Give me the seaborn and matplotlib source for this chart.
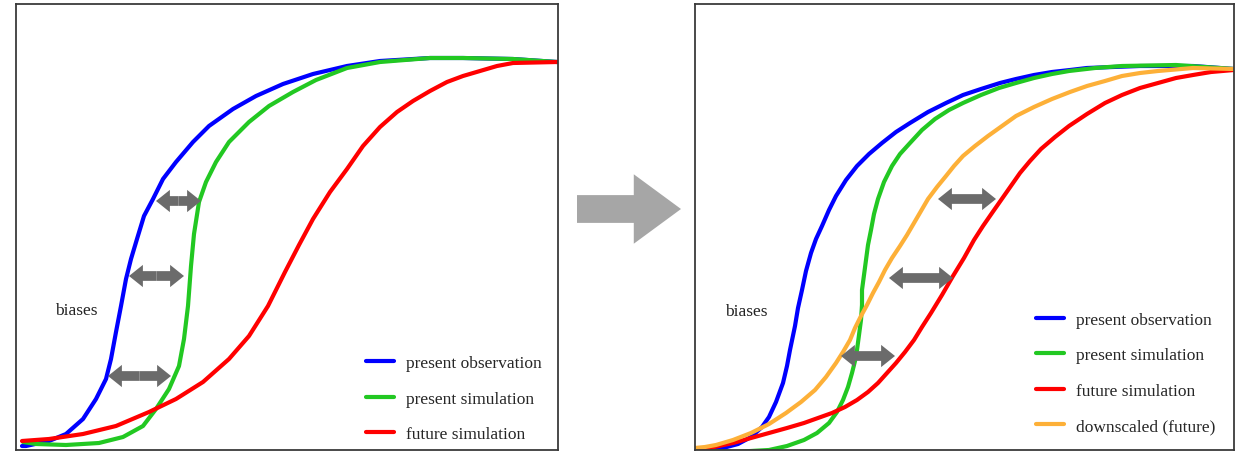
import matplotlib
matplotlib.use("Agg")
import matplotlib.pyplot as plt
from matplotlib.patches import FancyArrowPatch
import seaborn as sns

# Curves, in image pixel units (y grows downward)
# ---- left panel: before downscaling ----
L_obs_x = [22, 26, 49, 66, 83, 96, 106, 111, 116, 121, 126, 131, 137, 144, 153, 163, 176, 193, 209, 233, 256, 283, 313, 347, 380, 430, 463, 513, 557]
L_obs_y = [447, 447, 442, 435, 420, 400, 380, 360, 333, 307, 280, 260, 240, 217, 200, 180, 163, 143, 127, 110, 97, 85, 75, 67, 62, 59, 59, 60, 63]

L_sim_x = [23, 36, 66, 99, 123, 143, 156, 169, 179, 184, 188, 191, 194, 199, 206, 216, 229, 249, 269, 293, 316, 347, 380, 430, 463, 513, 557]
L_sim_y = [443, 445, 446, 444, 438, 427, 410, 390, 367, 340, 307, 267, 235, 203, 183, 163, 143, 123, 107, 93, 81, 69, 63, 59, 59, 60, 63]

L_fut_x = [22, 49, 83, 116, 149, 176, 203, 229, 249, 268, 285, 299, 313, 330, 347, 363, 380, 397, 413, 430, 447, 463, 480, 497, 513, 557]
L_fut_y = [442, 440, 435, 427, 413, 400, 383, 360, 337, 307, 273, 246, 220, 193, 170, 147, 128, 113, 102, 92, 83, 77, 72, 67, 64, 63]

# bias arrows: y, x_start, x_end
L_bias_y = [202, 277, 377]
L_bias_x0 = [156, 129, 108]
L_bias_x1 = [201, 184, 171]

# ---- right panel: after downscaling ----
R_obs_x = [695, 710, 723, 738, 751, 762, 769, 776, 783, 787, 790, 795, 798, 802, 806, 811, 816, 822, 829, 836, 846, 857, 869, 882, 896, 910, 928, 946, 963, 981, 1000, 1016, 1034, 1052, 1070, 1087, 1113, 1140, 1193, 1234]
R_obs_y = [451, 451, 449, 445, 438, 428, 418, 403, 384, 367, 351, 327, 309, 291, 272, 254, 240, 227, 211, 197, 181, 167, 155, 144, 133, 124, 113, 104, 96, 90, 84, 80, 76, 73, 71, 69, 68, 67, 67, 70]

R_sim_x = [695, 715, 733, 751, 769, 787, 804, 817, 829, 837, 843, 848, 852, 855, 857, 859, 861, 862, 862, 864, 866, 868, 871, 874, 878, 884, 892, 900, 910, 922, 935, 949, 963, 981, 999, 1016, 1034, 1052, 1069, 1095, 1122, 1176, 1234]
R_sim_y = [451, 452, 453, 452, 451, 447, 441, 434, 424, 413, 401, 388, 374, 362, 351, 336, 321, 306, 291, 276, 261, 246, 231, 215, 200, 183, 167, 155, 144, 131, 120, 111, 104, 96, 89, 84, 79, 75, 72, 69, 67, 66, 70]

R_fut_x = [695, 714, 733, 751, 769, 787, 804, 818, 832, 845, 857, 868, 878, 887, 896, 905, 914, 922, 931, 942, 953, 964, 974, 983, 992, 999, 1006, 1013, 1020, 1030, 1041, 1055, 1069, 1087, 1105, 1122, 1140, 1158, 1176, 1193, 1211, 1234]
R_fut_y = [451, 448, 444, 439, 434, 429, 424, 419, 414, 408, 401, 393, 384, 374, 364, 353, 341, 328, 314, 296, 277, 259, 241, 227, 214, 204, 194, 184, 174, 162, 150, 138, 127, 115, 104, 96, 89, 84, 79, 76, 73, 71]

R_down_x = [695, 705, 716, 733, 751, 769, 786, 801, 815, 826, 836, 843, 850, 855, 861, 867, 873, 879, 885, 892, 900, 907, 914, 921, 928, 937, 946, 954, 963, 975, 988, 1002, 1016, 1034, 1052, 1070, 1087, 1105, 1122, 1140, 1158, 1193, 1234]
R_down_y = [449, 448, 446, 441, 434, 425, 414, 403, 391, 378, 364, 353, 341, 329, 317, 306, 294, 283, 271, 259, 247, 236, 224, 212, 200, 188, 177, 167, 157, 147, 137, 127, 117, 108, 100, 93, 87, 82, 77, 74, 72, 69, 70]

R_bias_y = [200, 279, 357]
R_bias_x0 = [938, 889, 841]
R_bias_x1 = [996, 953, 895]

labels = ["present observation", "present simulation", "future simulation", "downscaled (future)"]
colors = ["#0000ff", "#22c822", "#ff0000", "#fdb038"]

sns.set_theme(style="white")
plt.rcParams["font.family"] = ["Liberation Serif", "DejaVu Serif"]

fig = plt.figure(figsize=(12.36, 4.52), dpi=100)
ax1 = fig.add_axes([16 / 1236, 1 / 452, 542 / 1236, 446 / 452])
ax2 = fig.add_axes([695 / 1236, 1 / 452, 539 / 1236, 446 / 452])


def bias_arrows(ax, ys, x0s, x1s):
    for y, a, b in zip(ys, x0s, x1s):
        mid = (a + b) / 2
        for end in (a, b):
            ax.add_patch(FancyArrowPatch(
                (mid, y), (end, y),
                arrowstyle="simple,head_length=1.0,head_width=1.6,tail_width=0.7",
                mutation_scale=10, color="#6b6b6b", lw=0,
                shrinkA=0, shrinkB=0, zorder=5))


def style_frame(ax, xlim):
    ax.set_xlim(*xlim)
    ax.set_ylim(451, 5)
    ax.set_xticks([])
    ax.set_yticks([])
    ax.set_xlabel("")
    ax.set_ylabel("")
    for s in ax.spines.values():
        s.set_color("#3a3a3a")
        s.set_linewidth(1.3)


def panel_legend(ax, anchor):
    ax.legend(loc="lower left", bbox_to_anchor=anchor, bbox_transform=ax.transData,
              frameon=False, fontsize=12.5, handlelength=1.6, handletextpad=0.7,
              labelspacing=1.1, borderpad=0, borderaxespad=0)


# left panel
for xs, ys, lab, c in zip([L_obs_x, L_sim_x, L_fut_x], [L_obs_y, L_sim_y, L_fut_y], labels, colors):
    sns.lineplot(x=xs, y=ys, ax=ax1, color=c, lw=3, sort=False, estimator=None, label=lab)
bias_arrows(ax1, L_bias_y, L_bias_x0, L_bias_x1)
ax1.text(76, 311, "biases", ha="center", va="center", fontsize=12.5, color="#222222")
style_frame(ax1, (16, 558))
panel_legend(ax1, (366, 443))

# right panel
for xs, ys, lab, c in zip([R_obs_x, R_sim_x, R_fut_x, R_down_x], [R_obs_y, R_sim_y, R_fut_y, R_down_y], labels, colors):
    sns.lineplot(x=xs, y=ys, ax=ax2, color=c, lw=3, sort=False, estimator=None, label=lab)
bias_arrows(ax2, R_bias_y, R_bias_x0, R_bias_x1)
ax2.text(746, 312, "biases", ha="center", va="center", fontsize=12.5, color="#222222")
style_frame(ax2, (695, 1234))
panel_legend(ax2, (1036, 435))

# big arrow between the panels (figure pixels)
big_start = (577, 210)
big_end = (681, 210)
fig.patches.append(FancyArrowPatch(
    (big_start[0] / 1236, 1 - big_start[1] / 452), (big_end[0] / 1236, 1 - big_end[1] / 452),
    transform=fig.transFigure, arrowstyle="simple,head_length=3.4,head_width=5.0,tail_width=2.0",
    mutation_scale=10, color="#a6a6a6", lw=0, shrinkA=0, shrinkB=0))

fig.savefig("out.png", dpi=100)
